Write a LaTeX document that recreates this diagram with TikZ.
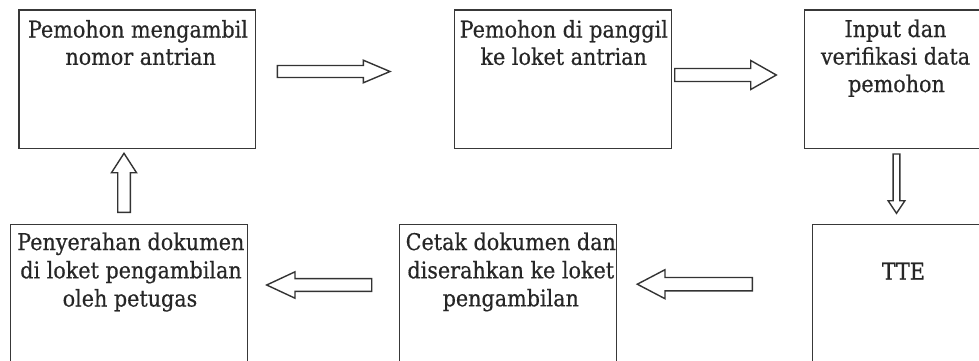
\documentclass[tikz,border=0pt]{standalone}
\usepackage{fontspec}
\setmainfont{DejaVu Serif}[FakeStretch=0.9,FakeBold=0.5]
\tikzset{
  box/.style={draw=black!78, line width=1.3pt, inner sep=0pt, anchor=north west},
  txt/.style={font=\fontsize{23}{27.8}\selectfont, inner sep=0pt, anchor=base, text=black!85},
  barrow/.style={draw=black!80, line width=1.4pt, fill=white, line join=miter},
}
\newcommand\hblockarrow[6]{% y, shaft half, head half, tail x, head base x, tip x
  \draw[barrow] (#4,#1-#2) -- (#5,#1-#2) -- (#5,#1-#3) -- (#6,#1) -- (#5,#1+#3) -- (#5,#1+#2) -- (#4,#1+#2) -- cycle;}
\newcommand\vblockarrow[6]{% x, shaft half, head half, tail y, head base y, tip y
  \draw[barrow] (#1-#2,#4) -- (#1-#2,#5) -- (#1-#3,#5) -- (#1,#6) -- (#1+#3,#5) -- (#1+#2,#5) -- (#1+#2,#4) -- cycle;}
\begin{document}
\begin{tikzpicture}[x=1pt,y=-1pt]
\path[use as bounding box, clip] (0,0) rectangle (979,360);
\fill[white] (0,0) rectangle (979,360);
% boxes
\node[box, minimum width=236.7pt, minimum height=138.4pt] (b1) at (18.3,9.3) {};
\node[box, minimum width=217.2pt, minimum height=138.4pt] (b2) at (453.5,9.3) {};
\node[box, minimum width=190pt, minimum height=138.4pt] (b3) at (804,9.3) {};
\node[box, minimum width=236.7pt, minimum height=150pt] (b4) at (10,223.5) {};
\node[box, minimum width=216.7pt, minimum height=150pt] (b5) at (399,224) {};
\node[box, minimum width=180pt, minimum height=150pt] (b6) at (811.7,224) {};
% texts
\node[txt] (t1a) at (138,37.5) {Pemohon mengambil};
\node[txt] (t1b) at (140.7,64.8) {nomor antrian};
\node[txt] (t2a) at (563.8,37.5) {Pemohon di panggil};
\node[txt] (t2b) at (563.7,64.8) {ke loket antrian};
\node[txt] (t3a) at (895.5,37) {Input dan};
\node[txt] (t3b) at (895.5,64.5) {verifikasi data};
\node[txt] (t3c) at (896.5,92) {pemohon};
\node[txt] (t6) at (903.4,279.5) {TTE};
\node[txt] (t5a) at (510.8,250) {Cetak dokumen dan};
\node[txt] (t5b) at (510.8,278.3) {diserahkan ke loket};
\node[txt] (t5c) at (510.8,306.3) {pengambilan};
\node[txt] (t4a) at (130.8,250) {Penyerahan dokumen};
\node[txt] (t4b) at (131,278.3) {di loket pengambilan};
\node[txt] (t4c) at (130,306.5) {oleh petugas};
% block arrows
\hblockarrow{71.5}{6}{11.3}{277.3}{363.3}{390}
\hblockarrow{75}{6.5}{14.5}{674.7}{750.7}{776.3}
\vblockarrow{896.5}{3.4}{8.4}{154}{200.7}{213.3}
\hblockarrow{284.2}{6.7}{14.5}{752.3}{665}{637.3}
\hblockarrow{285}{6.4}{13.2}{371.7}{295}{266.7}
\vblockarrow{124}{6.3}{12.5}{212.3}{172.7}{153.3}
\end{tikzpicture}
\end{document}
